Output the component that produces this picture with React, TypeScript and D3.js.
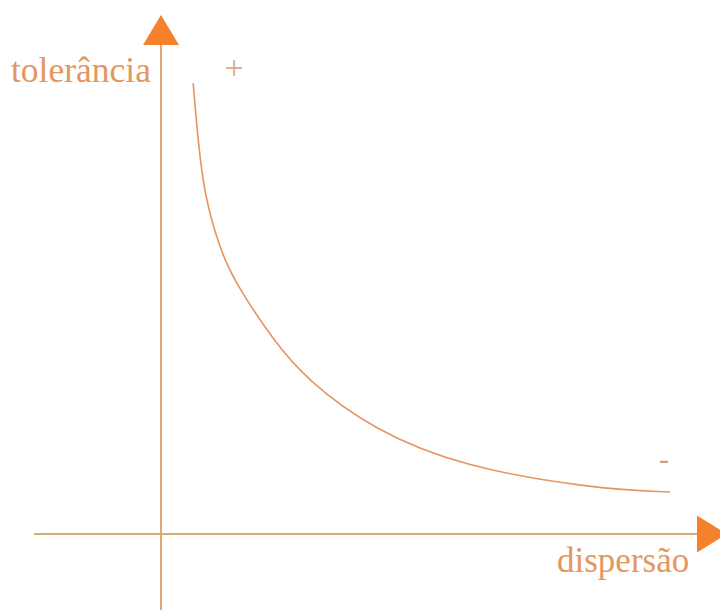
import React from "react";
import * as d3 from "d3";

// Curve values (dispersão vs tolerância), in axis units (0–100)
const dispersao = [6.0, 6.9, 7.8, 8.8, 10.1, 11.9, 14.4, 20.9, 27.2, 39.6, 56.3, 81.3, 95.0];
const tolerancia = [92.2, 80.6, 72.4, 66.9, 61.6, 56.0, 50.5, 39.7, 31.5, 21.3, 13.7, 9.2, 8.6];
const yLabel = "tolerância";
const xLabel = "dispersão";
const highMark = "+";
const lowMark = "-";

const W = 720;
const H = 610;

export default function App() {
  const x = d3.scaleLinear().domain([0, 100]).range([161, 697]);
  const y = d3.scaleLinear().domain([0, 100]).range([534, 45]);

  const pts: [number, number][] = dispersao.map((d, i) => [d, tolerancia[i]]);
  const line = d3
    .line<[number, number]>()
    .x((d) => x(d[0]))
    .y((d) => y(d[1]))
    .curve(d3.curveBasis);

  const axisColor = "#dba774";
  const arrowColor = "#f5812c";
  const curveColor = "#e6955e";
  const textColor = "#e3975f";
  const x0 = x(0);
  const y0 = y(0);
  const yTop = y(100);
  const xEnd = x(100);
  const font = "'Liberation Serif', 'DejaVu Serif', serif";

  return (
    <svg
      width={W}
      height={H}
      style={{ position: "absolute", left: 0, top: 0, background: "#fff" }}
    >
      {/* axes */}
      <line x1={x0} x2={x0} y1={yTop} y2={H} stroke={axisColor} strokeWidth={2} />
      <line x1={34} x2={xEnd} y1={y0} y2={y0} stroke={axisColor} strokeWidth={2} />
      {/* arrow heads */}
      <path
        d={`M${x0 - 18},${yTop} L${x0},${yTop - 30} L${x0 + 18},${yTop} Z`}
        fill={arrowColor}
      />
      <path
        d={`M${xEnd},${y0 - 18.5} L${xEnd + 30},${y0} L${xEnd},${y0 + 18.5} Z`}
        fill={arrowColor}
      />
      {/* curve */}
      <path d={line(pts) || ""} fill="none" stroke={curveColor} strokeWidth={1.6} />
      {/* labels */}
      <text x={11} y={82} fontFamily={font} fontSize={35.5} fill={textColor}>
        {yLabel}
      </text>
      <text x={557} y={572} fontFamily={font} fontSize={35} fill={textColor}>
        {xLabel}
      </text>
      <text
        x={234}
        y={79}
        textAnchor="middle"
        fontFamily={font}
        fontSize={34}
        fill="#d9a98c"
      >
        {highMark}
      </text>
      <text x={659} y={469} fontFamily={font} fontSize={30} fill="#c9a08a">
        {lowMark}
      </text>
    </svg>
  );
}
